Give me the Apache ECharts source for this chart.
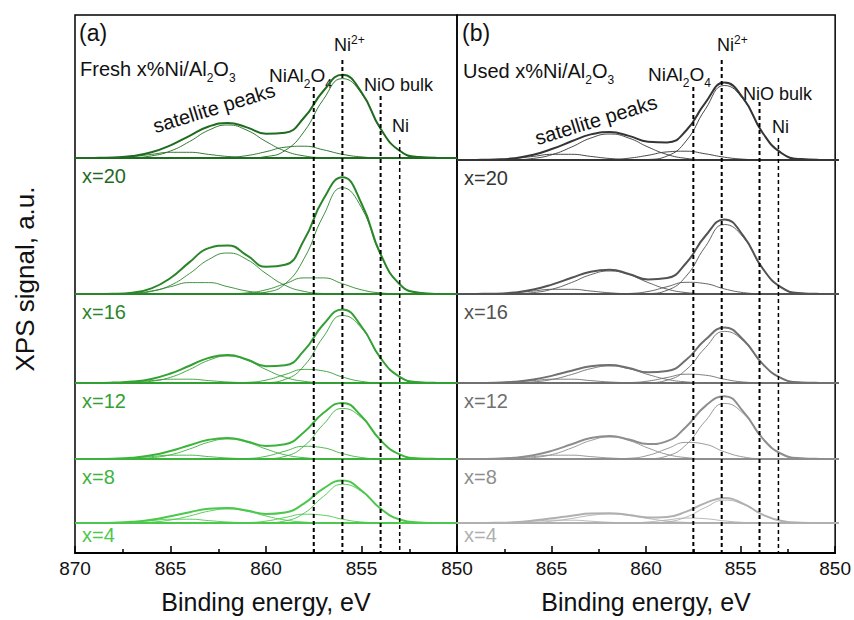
<!DOCTYPE html>
<html><head><meta charset="utf-8">
<script src="https://cdn.jsdelivr.net/npm/echarts@6/dist/echarts.min.js"></script>
<style>html,body{margin:0;padding:0;background:#fff}#c{width:854px;height:620px}</style>
</head><body><div id="c"></div>
<script>
// ---------- DATA (binding energy grid, eV) ----------
const energy = [870,869,868,867,866,865,864,863,862,861,860,859,858,857,856,855,854,853,852,851,850];

// Fresh x%Ni/Al2O3 (panel a)
const fresh20Envelope = [0,0.1,0.5,1.9,5.7,12.7,22.2,31.5,35.1,30.6,24.3,25.3,40.5,67.0,83.2,65.7,29.2,7.2,1.0,0.1,0];
const fresh20Ni2      = [0,0,0,0,0,0,0,0,0,0,1.4,7.5,26.6,58.4,79.4,64.6,29.0,7.2,1.0,0.1,0];
const fresh20NiAl2O4  = [0,0,0,0,0,0,0,0.1,0.6,2.4,6.3,10.8,11.8,8.2,3.7,1.1,0.2,0,0,0,0];
const fresh20Sat1     = [0,0,0.1,0.4,2.1,7.0,16.5,27.8,33,27.8,16.5,7.0,2.1,0.4,0.1,0,0,0,0,0,0];
const fresh20Sat2     = [0,0.1,0.4,1.5,3.6,5.7,5.7,3.6,1.5,0.4,0.1,0,0,0,0,0,0,0,0,0,0];

const fresh16Envelope = [0,0,0.2,1.3,5.6,16.0,31.9,45.9,48.5,38.6,27.3,29.2,54.3,94.7,116.7,90.5,39.9,9.8,1.3,0.1,0];
const fresh16Ni2      = [0,0,0,0,0,0,0,0,0,0,1.8,10.1,35.6,78.1,106.3,86.3,38.8,9.6,1.3,0.1,0];
const fresh16NiAl2O4  = [0,0,0,0,0,0,0,0,0.2,1.1,4.2,10.3,16.1,16.1,10.3,4.2,1.1,0.2,0,0,0];
const fresh16Sat1     = [0,0,0.1,0.5,2.6,8.7,20.5,34.5,41,34.5,20.5,8.7,2.6,0.5,0.1,0,0,0,0,0,0];
const fresh16Sat2     = [0,0,0.1,0.8,3.0,7.3,11.4,11.4,7.3,3.0,0.8,0.1,0,0,0,0,0,0,0,0,0];

const fresh12Envelope = [0,0,0.4,1.4,4.1,9.5,17.3,25.1,28.1,23.6,16.8,17.8,32.6,58.5,73.6,56.5,24.9,6.1,0.8,0.1,0];
const fresh12Ni2      = [0,0,0,0,0,0,0,0,0,0,0.4,3.6,17.3,46.0,67.5,54.9,24.7,6.1,0.8,0.1,0];
const fresh12NiAl2O4  = [0,0,0,0,0,0,0,0,0.1,0.6,2.9,8.5,13.6,12.1,6.0,1.6,0.2,0,0,0,0];
const fresh12Sat1     = [0,0,0.1,0.4,1.7,5.7,13.5,22.7,27,22.7,13.5,5.7,1.7,0.4,0.1,0,0,0,0,0,0];
const fresh12Sat2     = [0,0,0.3,1.0,2.4,3.8,3.8,2.4,1.0,0.3,0,0,0,0,0,0,0,0,0,0,0];

const fresh8Envelope  = [0,0,0.3,1.3,3.7,8.0,13.8,19.2,21.1,17.6,13.0,14.8,27.0,46.0,56.1,42.7,18.7,4.6,0.6,0.1,0];
const fresh8Ni2       = [0,0,0,0,0,0,0,0,0,0,0.3,2.7,13.0,34.5,50.6,41.2,18.5,4.6,0.6,0.1,0];
const fresh8NiAl2O4   = [0,0,0,0,0,0,0,0,0.1,0.5,2.7,7.9,12.7,11.2,5.5,1.5,0.2,0,0,0,0];
const fresh8Sat1      = [0,0,0,0.3,1.3,4.2,10,16.8,20,16.8,10,4.2,1.3,0.3,0,0,0,0,0,0,0];
const fresh8Sat2      = [0,0,0.3,1.0,2.4,3.8,3.8,2.4,1.0,0.3,0,0,0,0,0,0,0,0,0,0,0];

const fresh4Envelope  = [0,0,0.3,1.2,3.3,6.8,10.8,14.2,15.0,12.5,9.1,10.6,19.6,34.4,42.5,32.5,14.4,3.5,0.5,0,0];
const fresh4Ni2       = [0,0,0,0,0,0,0,0,0,0,0.2,2.1,9.9,26.4,38.7,31.5,14.2,3.5,0.5,0,0];
const fresh4NiAl2O4   = [0,0,0,0,0,0,0,0,0,0.4,1.9,5.5,8.8,7.8,3.8,1.0,0.2,0,0,0,0];
const fresh4Sat1      = [0,0,0,0.2,0.9,3.0,7.0,11.8,14,11.8,7.0,3.0,0.9,0.2,0,0,0,0,0,0,0];
const fresh4Sat2      = [0,0,0.3,1.0,2.4,3.8,3.8,2.4,1.0,0.3,0,0,0,0,0,0,0,0,0,0,0];

// Used x%Ni/Al2O3 (panel b)
const used20Envelope = [0,0.1,0.5,1.8,5.2,11.2,18.7,25.6,27.9,24.1,18.3,17.6,29.5,57.2,77.4,61.3,27.3,6.8,0.9,0.1,0];
const used20Ni2      = [0,0,0,0,0,0,0,0,0,0,0.5,4.0,19.1,50.7,74.5,60.5,27.2,6.8,0.9,0.1,0];
const used20NiAl2O4  = [0,0,0,0,0,0,0,0.1,0.4,1.8,4.7,8.1,8.8,6.2,2.8,0.8,0.1,0,0,0,0];
const used20Sat1     = [0,0,0.1,0.3,1.6,5.5,13,21.9,26,21.9,13,5.5,1.6,0.3,0.1,0,0,0,0,0,0];
const used20Sat2     = [0,0.1,0.4,1.5,3.6,5.7,5.7,3.6,1.5,0.4,0.1,0,0,0,0,0,0,0,0,0,0];

const used16Envelope = [0,0.1,0.3,1.5,4.4,9.6,16.2,22.3,24.2,20.1,14.5,15.9,31.0,58.0,74.6,57.9,25.6,6.3,0.8,0.1,0];
const used16Ni2      = [0,0,0,0,0,0,0,0,0,0,0.4,3.7,17.9,47.3,69.5,56.5,25.4,6.3,0.8,0.1,0];
const used16NiAl2O4  = [0,0,0,0,0,0,0,0,0,0.5,2.5,7.3,11.7,10.4,5.1,1.4,0.2,0,0,0,0];
const used16Sat1     = [0,0,0,0.3,1.4,4.9,11.5,19.3,23,19.3,11.5,4.9,1.4,0.3,0,0,0,0,0,0,0];
const used16Sat2     = [0,0.1,0.3,1.2,3.0,4.7,4.7,3.0,1.2,0.3,0.1,0,0,0,0,0,0,0,0,0,0];

const used12Envelope = [0,0,0.3,1.2,3.5,7.4,12.3,16.7,18.0,15.0,10.7,11.9,23.2,43.2,55.4,43.0,19.1,4.7,0.6,0.1,0];
const used12Ni2      = [0,0,0,0,0,0,0,0,0,0,0.3,2.8,13.3,35.2,51.6,42.0,18.9,4.7,0.6,0.1,0];
const used12NiAl2O4  = [0,0,0,0,0,0,0,0,0,0.4,1.9,5.5,8.8,7.8,3.8,1.0,0.2,0,0,0,0];
const used12Sat1     = [0,0,0,0.2,1.1,3.6,8.5,14.3,17,14.3,8.5,3.6,1.1,0.2,0,0,0,0,0,0,0];
const used12Sat2     = [0,0,0.3,1.0,2.4,3.8,3.8,2.4,1.0,0.3,0,0,0,0,0,0,0,0,0,0,0];

const used8Envelope  = [0,0,0.3,1.3,3.8,8.4,14.8,20.9,23.1,19.5,14.9,17.9,32.3,52.9,62.8,47.2,20.6,5.0,0.7,0.1,0];
const used8Ni2       = [0,0,0,0,0,0,0,0,0,0,0.3,3.0,14.3,37.9,55.6,45.2,20.3,5.0,0.7,0.1,0];
const used8NiAl2O4   = [0,0,0,0,0,0,0,0,0.1,0.7,3.6,10.3,16.6,14.7,7.2,2.0,0.3,0,0,0,0];
const used8Sat1      = [0,0,0,0.3,1.4,4.6,11,18.5,22,18.5,11,4.6,1.4,0.3,0,0,0,0,0,0,0];
const used8Sat2      = [0,0,0.3,1.0,2.4,3.8,3.8,2.4,1.0,0.3,0,0,0,0,0,0,0,0,0,0,0];

const used4Envelope  = [0,0,0.2,0.8,2.4,4.7,7.3,9.4,9.7,8.0,5.6,6.1,11.4,19.9,24.9,19.2,8.4,2.1,0.3,0,0];
const used4Ni2       = [0,0,0,0,0,0,0,0,0,0,0.1,1.2,5.9,15.5,22.8,18.6,8.3,2.1,0.3,0,0];
const used4NiAl2O4   = [0,0,0,0,0,0,0,0,0,0.2,1.0,3.0,4.9,4.3,2.1,0.6,0.1,0,0,0,0];
const used4Sat1      = [0,0,0,0.1,0.6,1.9,4.5,7.6,9,7.6,4.5,1.9,0.6,0.1,0,0,0,0,0,0,0];
const used4Sat2      = [0,0,0.2,0.7,1.8,2.8,2.8,1.8,0.7,0.2,0,0,0,0,0,0,0,0,0,0,0];

const sampleLabels = ['x=20','x=16','x=12','x=8','x=4'];
const peakNames = ['NiAl2O4','Ni2+','NiO bulk','Ni'];
const peakEnergies = [857.5, 856, 854, 853];

// ---------- assembly ----------
const freshSpectra = [
  [fresh20Envelope, fresh20Ni2, fresh20NiAl2O4, fresh20Sat1, fresh20Sat2],
  [fresh16Envelope, fresh16Ni2, fresh16NiAl2O4, fresh16Sat1, fresh16Sat2],
  [fresh12Envelope, fresh12Ni2, fresh12NiAl2O4, fresh12Sat1, fresh12Sat2],
  [fresh8Envelope,  fresh8Ni2,  fresh8NiAl2O4,  fresh8Sat1,  fresh8Sat2],
  [fresh4Envelope,  fresh4Ni2,  fresh4NiAl2O4,  fresh4Sat1,  fresh4Sat2]
];
const usedSpectra = [
  [used20Envelope, used20Ni2, used20NiAl2O4, used20Sat1, used20Sat2],
  [used16Envelope, used16Ni2, used16NiAl2O4, used16Sat1, used16Sat2],
  [used12Envelope, used12Ni2, used12NiAl2O4, used12Sat1, used12Sat2],
  [used8Envelope,  used8Ni2,  used8NiAl2O4,  used8Sat1,  used8Sat2],
  [used4Envelope,  used4Ni2,  used4NiAl2O4,  used4Sat1,  used4Sat2]
];

const FONT = '"Liberation Sans", Arial, sans-serif';
const TXT = '#111';
const FRAME_TOP = 15, FRAME_H = 538;
const panels = [
  { left: 75, width: 382, spectra: freshSpectra,
    colors: ['#1f6b1f','#2a862a','#33a033','#3cb43c','#4cc84c'],
    baselines: [158, 294, 383, 459, 523],
    dashTops: [87, 60, 96, 140], showMax: true },
  { left: 457, width: 382, spectra: usedSpectra,
    colors: ['#353535','#535353','#707070','#8e8e8e','#b0b0b0'],
    baselines: [160, 294, 383, 459, 523],
    dashTops: [87, 60, 102, 138], showMax: false }
];

const grid = [], xAxis = [], yAxis = [], series = [], graphic = [];
const SPEC_H = 150;

panels.forEach((p) => {
  // frame
  grid.push({ left: p.left, width: p.width, top: FRAME_TOP, height: FRAME_H, show: true,
              borderColor: '#000', borderWidth: 1.5, backgroundColor: 'rgba(0,0,0,0)' });
  const fi = grid.length - 1;
  xAxis.push({ type: 'value', gridIndex: fi, min: 850, max: 870, interval: 5, inverse: true,
    axisLine: { show: true, onZero: false, lineStyle: { color: '#000', width: 2 } },
    axisTick: { show: true, inside: true, length: 7, lineStyle: { color: '#000', width: 1.5 } },
    minorTick: { show: true, splitNumber: 2, length: 4, lineStyle: { color: '#000', width: 1.5 } },
    splitLine: { show: false }, minorSplitLine: { show: false },
    axisLabel: { color: TXT, fontSize: 19, fontFamily: FONT, margin: 6, showMaxLabel: p.showMax, showMinLabel: true },
    name: 'Binding energy, eV', nameLocation: 'middle', nameGap: 36,
    nameTextStyle: { fontSize: 25, color: TXT, fontFamily: FONT } });
  yAxis.push({ type: 'value', gridIndex: fi, min: 0, max: FRAME_H, inverse: true, show: false });

  // spectra
  p.spectra.forEach((curves, i) => {
    const base = p.baselines[i];
    const color = p.colors[i];
    grid.push({ left: p.left, width: p.width, top: base - SPEC_H, height: SPEC_H });
    const gi = grid.length - 1;
    xAxis.push({ type: 'value', gridIndex: gi, min: 850, max: 870, inverse: true, show: false });
    yAxis.push({ type: 'value', gridIndex: gi, min: 0, max: SPEC_H, show: false });
    curves.forEach((c, k) => {
      const s = { type: 'line', xAxisIndex: gi, yAxisIndex: gi, smooth: 0.5,
        symbol: 'none', showSymbol: false, clip: false, silent: true, z: k === 0 ? 4 : 3,
        data: energy.map((e, j) => [e, c[j]]),
        lineStyle: { color: color, width: k === 0 ? 2 : 1, opacity: k === 0 ? 1 : 0.9 } };
      if (k === 0) {
        s.markLine = { silent: true, symbol: 'none', animation: false,
          label: { show: false },
          lineStyle: { color: color, width: 2, type: 'solid' },
          data: [{ yAxis: 0 }] };
      }
      series.push(s);
    });
    graphic.push({ type: 'text', x: p.left + 7, y: base + (i === 4 ? 2 : 7.5), silent: true,
      style: { text: sampleLabels[i], fill: color, fontSize: 20, fontFamily: FONT,
               align: 'left', textAlign: 'left', verticalAlign: 'top', textVerticalAlign: 'top' } });
  });

  // dashed reference lines
  peakEnergies.forEach((en, k) => {
    series.push({ type: 'line', xAxisIndex: fi, yAxisIndex: fi, symbol: 'none', silent: true, z: 6,
      data: [[en, p.dashTops[k] - FRAME_TOP], [en, FRAME_H]],
      lineStyle: { color: '#000', width: k === 3 ? 1.5 : 2, type: [4, 3] } });
  });
});

// ---------- annotations ----------
function rich(fs) {
  return {
    n: { fontSize: fs, fontFamily: FONT, color: TXT, lineHeight: 30 },
    s: { fontSize: 12, fontFamily: FONT, color: TXT, lineHeight: 12, padding: [18, 0, 0, 0], verticalAlign: 'top' },
    m: { fontSize: fs, fontFamily: FONT, color: TXT, lineHeight: 24 },
    p: { fontSize: 12, fontFamily: FONT, color: TXT, lineHeight: 12, padding: [1, 0, 0, 0], verticalAlign: 'top' }
  };
}
function tx(x, y, text, fs, extra) {
  return Object.assign({ type: 'text', x: x, y: y, silent: true,
    style: { text: text, fill: TXT, fontSize: fs, fontFamily: FONT, rich: rich(fs),
             align: 'left', textAlign: 'left', verticalAlign: 'top', textVerticalAlign: 'top' } }, extra || {});
}
const ann = [
  // panel a
  tx(79, 21, '(a)', 23),
  tx(80, 53.5, '{n|Fresh x%Ni/Al}{s|2}{n|O}{s|3}', 20),
  tx(269, 60, '{n|NiAl}{s|2}{n|O}{s|4}', 19),
  tx(334, 33, '{m|Ni}{p|2+}', 18),
  tx(364, 76, 'NiO bulk', 18),
  tx(392, 117, 'Ni', 18),
  // panel b
  tx(462, 21, '(b)', 23),
  tx(463, 55.5, '{n|Used x%Ni/Al}{s|2}{n|O}{s|3}', 20),
  tx(648, 59, '{n|NiAl}{s|2}{n|O}{s|4}', 19),
  tx(717, 33, '{m|Ni}{p|2+}', 18),
  tx(743, 85, 'NiO bulk', 18),
  tx(772, 118, 'Ni', 18)
];
ann.push({ type: 'text', x: 214, y: 108, rotation: 17 * Math.PI / 180, silent: true,
  style: { text: 'satellite peaks', fill: TXT, fontSize: 20, fontFamily: FONT,
           align: 'center', textAlign: 'center', verticalAlign: 'middle', textVerticalAlign: 'middle' } });
ann.push({ type: 'text', x: 596, y: 120, rotation: 17 * Math.PI / 180, silent: true,
  style: { text: 'satellite peaks', fill: TXT, fontSize: 20, fontFamily: FONT,
           align: 'center', textAlign: 'center', verticalAlign: 'middle', textVerticalAlign: 'middle' } });
ann.push({ type: 'text', x: 25, y: 279, rotation: Math.PI / 2, silent: true,
  style: { text: 'XPS signal, a.u.', fill: TXT, fontSize: 26, fontFamily: FONT,
           align: 'center', textAlign: 'center', verticalAlign: 'middle', textVerticalAlign: 'middle' } });

const chart = echarts.init(document.getElementById('c'), null, { renderer: 'svg' });
chart.setOption({
  animation: false,
  backgroundColor: '#fff',
  textStyle: { fontFamily: FONT },
  grid: grid, xAxis: xAxis, yAxis: yAxis, series: series,
  graphic: graphic.concat(ann)
});
</script></body></html>
